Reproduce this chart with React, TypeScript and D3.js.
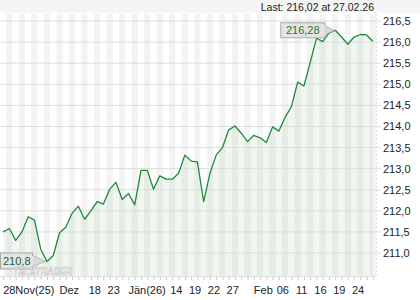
import React from "react";
import * as d3 from "d3";

const dates = [
  "28.11.25",
  "01.12.25", "02.12.25", "03.12.25", "04.12.25", "05.12.25",
  "08.12.25", "09.12.25", "10.12.25", "11.12.25", "12.12.25",
  "15.12.25", "16.12.25", "17.12.25", "18.12.25", "19.12.25",
  "22.12.25", "23.12.25", "29.12.25", "30.12.25",
  "02.01.26", "05.01.26", "07.01.26", "08.01.26", "09.01.26",
  "12.01.26", "13.01.26", "14.01.26", "15.01.26", "16.01.26",
  "19.01.26", "20.01.26", "21.01.26", "22.01.26", "23.01.26",
  "26.01.26", "27.01.26", "28.01.26", "29.01.26", "30.01.26",
  "02.02.26", "03.02.26", "04.02.26", "05.02.26", "06.02.26",
  "09.02.26", "10.02.26", "11.02.26", "12.02.26", "13.02.26",
  "16.02.26", "17.02.26", "18.02.26", "19.02.26", "20.02.26",
  "23.02.26", "24.02.26", "25.02.26", "26.02.26", "27.02.26",
];

const values = [
  211.5, 211.58, 211.3, 211.5, 211.86, 211.78, 211.09, 210.8, 210.94, 211.48,
  211.61, 211.94, 212.11, 211.8, 212.0, 212.22, 212.16, 212.51, 212.68, 212.27,
  212.41, 212.14, 212.96, 212.96, 212.51, 212.83, 212.75, 212.75, 212.89, 213.32,
  213.18, 213.16, 212.22, 212.89, 213.32, 213.5, 213.92, 214.01, 213.84, 213.64,
  213.79, 213.73, 213.62, 213.99, 213.89, 214.22, 214.47, 215.05, 214.96, 215.52,
  216.09, 216.01, 216.21, 216.28, 216.12, 215.95, 216.12, 216.18, 216.17, 216.02,
];

const xTickDates = [
  "28.11.25", "11.12.25", "18.12.25", "23.12.25", "02.01.26", "14.01.26", "19.01.26",
  "22.01.26", "27.01.26", "02.02.26", "06.02.26", "11.02.26", "16.02.26", "19.02.26", "24.02.26",
];
const xTickLabels = [
  "28Nov(25)", "Dez", "18", "23", "Jän(26)", "14", "19", "22", "27", "Feb", "06", "11", "16", "19", "24",
];
const xTickIsMonth = [true, true, false, false, true, false, false, false, false, true, false, false, false, false, false];

const yTicks = [211.0, 211.5, 212.0, 212.5, 213.0, 213.5, 214.0, 214.5, 215.0, 215.5, 216.0, 216.5];

const lastLabel = "Last: 216,02 at 27.02.26";

const W = 420;
const H = 300;
const plotLeft = 0;
const plotRight = 376;
const plotTop = 14;
const plotBottom = 276;
const FONT = "'Liberation Sans', Arial, sans-serif";
const LINE = "#1f8a3c";

const fmt = (v: number, d: number) => v.toFixed(d).replace(".", ",");

export default function App() {
  const n = values.length;
  const x = d3.scaleLinear().domain([-0.5, n - 0.5]).range([plotLeft, plotRight]);
  const y = d3.scaleLinear().domain([211, 216.5]).range([253, 21]);

  const line = d3.line<number>().x((_, i) => x(i)).y((d) => y(d));
  const area = d3
    .area<number>()
    .x((_, i) => x(i))
    .y0(plotBottom)
    .y1((d) => y(d));

  const iMax = d3.maxIndex(values);
  const iMin = d3.minIndex(values);
  const maxX = x(iMax);
  const maxY = y(values[iMax]);
  const minX = x(iMin);
  const minY = y(values[iMin]);

  const step = x(1) - x(0);

  const maxText = fmt(values[iMax], 2);
  const mbW = 44;
  const mbH = 15;
  const mbR = maxX - 11;
  const mbL = mbR - mbW;
  const mbT = maxY - 8;
  const minText = fmt(values[iMin], 1);
  const nbW = 32;
  const nbH = 16;
  const nbR = minX - 15;
  const nbL = nbR - nbW;
  const nbT = minY - 9;

  return (
    <svg
      width={W}
      height={H}
      style={{ position: "absolute", left: 0, top: 0, background: "#fff" }}
      fontFamily={FONT}
    >
      <rect x={0} y={0} width={W} height={plotTop - 1} fill="#f5f5f5" />
      {values.map((_, i) => (
        <rect
          key={"s" + i}
          x={x(i) - step / 2}
          y={plotTop}
          width={step}
          height={plotBottom - plotTop}
          fill={i % 2 === 1 ? "#f3f3f3" : "#ffffff"}
        />
      ))}
      <path d={area(values) || ""} fill="rgba(60,140,60,0.08)" />
      {yTicks.map((t) => (
        <g key={"g" + t}>
          <line x1={plotLeft} x2={plotRight + 5} y1={y(t)} y2={y(t)} stroke="#dddddd" strokeWidth={1} />
          <text x={383} y={y(t) + 4} fontSize={11} fill="#222">
            {fmt(t, 1)}
          </text>
        </g>
      ))}
      <line x1={plotRight + 0.5} x2={plotRight + 0.5} y1={plotTop} y2={plotBottom} stroke="#e2e2e2" strokeDasharray="2,2" />
      <line x1={plotLeft} x2={plotRight} y1={plotBottom + 0.5} y2={plotBottom + 0.5} stroke="#e0e0e0" />
      {values.map((_, i) => (
        <line
          key={"t" + i}
          x1={x(i) + 0.5}
          x2={x(i) + 0.5}
          y1={plotBottom + 1}
          y2={plotBottom + 4}
          stroke="#c8c8c8"
        />
      ))}
      {xTickLabels.map((lab, k) => {
        const idx = dates.indexOf(xTickDates[k]);
        const isM = xTickIsMonth[k];
        return (
          <text
            key={"x" + k}
            x={isM ? x(idx) : x(idx) + 4}
            y={294}
            fontSize={11}
            fill="#222"
            textAnchor={isM ? "start" : "middle"}
          >
            {lab}
          </text>
        );
      })}
      <path d={line(values) || ""} fill="none" stroke={LINE} strokeWidth={1.3} strokeLinejoin="round" />
      <polygon
        points={`${mbR},${mbT + 3} ${maxX - 1},${maxY} ${mbR},${mbT + mbH - 2}`}
        fill="#d9d9d9"
        stroke="#b0b0b0"
        strokeWidth={0.8}
      />
      <rect x={mbL + 0.5} y={mbT + 0.5} width={mbW} height={mbH} fill="#e4e4e4" stroke="#a9a9a9" />
      <rect x={mbR - 1} y={mbT + 3.5} width={2} height={mbH - 6} fill="#e4e4e4" />
      <text x={mbL + mbW / 2 + 0.5} y={mbT + 12} fontSize={11} fill="#1f7a36" textAnchor="middle">
        {maxText}
      </text>
      <polygon
        points={`${nbR},${nbT + 3} ${minX - 1},${minY} ${nbR},${nbT + nbH - 2}`}
        fill="#d9d9d9"
        stroke="#b0b0b0"
        strokeWidth={0.8}
      />
      <rect x={nbL + 0.5} y={nbT + 0.5} width={nbW} height={nbH} fill="#e4e4e4" stroke="#a9a9a9" />
      <rect x={nbR - 1} y={nbT + 3.5} width={2} height={nbH - 6} fill="#e4e4e4" />
      <text x={nbL + 3} y={nbT + 12.5} fontSize={11} fill="#1f5f30">
        {minText}
      </text>
      <text
        x={13}
        y={275}
        fontSize={11}
        fontStyle="italic"
        fontWeight="bold"
        fill="#f8f8f8"
        fillOpacity={0.6}
        stroke="#bdbdbd"
        strokeWidth={0.6}
        textLength={59}
        lengthAdjust="spacingAndGlyphs"
      >
        TELETRADER
      </text>
      <text x={374} y={11} fontSize={10.5} fill="#222" textAnchor="end">
        {lastLabel}
      </text>
    </svg>
  );
}
